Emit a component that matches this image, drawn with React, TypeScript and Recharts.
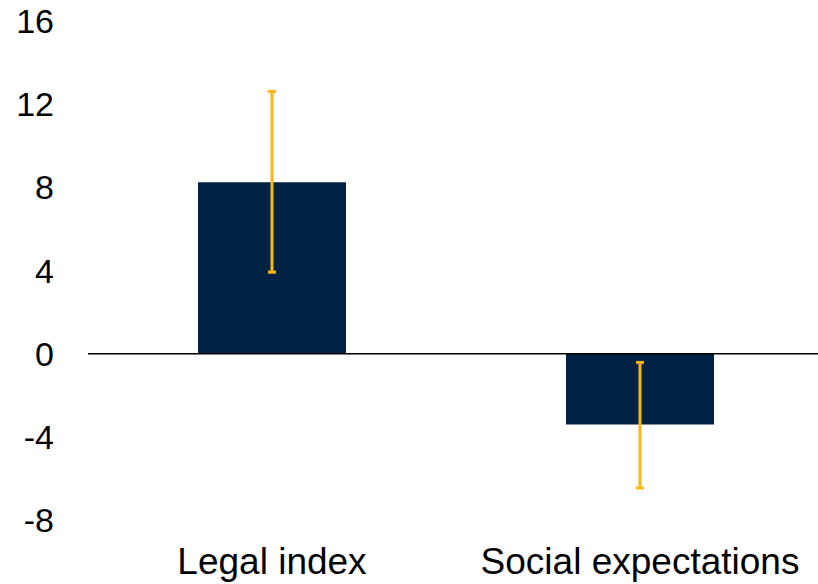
import React from "react";
import { BarChart, Bar, XAxis, YAxis, ErrorBar, ReferenceLine } from "recharts";

// Estimated effects with their confidence ranges
const categories = ["Legal index", "Social expectations"];
const estimates = [8.25, -3.41];
const errorDown = [4.33, 3.05];
const errorUp = [4.36, 2.99];
const yTicks = [-8, -4, 0, 4, 8, 12, 16];

const data = categories.map((name, i) => ({
  name,
  value: estimates[i],
  err: [errorDown[i], errorUp[i]],
}));

const FONT = "'Liberation Sans', Arial, sans-serif";
const NAVY = "#002244";
const GOLD = "#FDB714";

export default function App() {
  return (
    <div
      style={{
        position: "absolute",
        left: 0,
        top: 0,
        width: 818,
        height: 584,
        overflow: "hidden",
        background: "#fff",
      }}
    >
      <BarChart
        width={824}
        height={584}
        data={data}
        margin={{ top: 21, right: 0, bottom: 0, left: 0 }}
      >
        <YAxis
          type="number"
          domain={[-8, 16]}
          ticks={yTicks}
          interval={0}
          width={88}
          axisLine={false}
          tickLine={false}
          tickSize={0}
          tickMargin={34}
          tick={{ fontSize: 34, fill: "#000", fontFamily: FONT }}
        />
        <XAxis
          dataKey="name"
          height={64}
          axisLine={false}
          tickLine={false}
          tickSize={0}
          tickMargin={28}
          interval={0}
          tick={{ fontSize: 37, fill: "#000", fontFamily: FONT }}
        />
        <ReferenceLine y={0} stroke="#000" strokeWidth={1.5} />
        <Bar dataKey="value" fill={NAVY} barSize={148} isAnimationActive={false}>
          <ErrorBar
            dataKey="err"
            direction="y"
            width={4}
            stroke={GOLD}
            strokeWidth={3}
          />
        </Bar>
      </BarChart>
    </div>
  );
}
